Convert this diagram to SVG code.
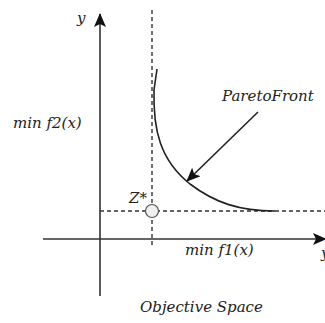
<svg xmlns="http://www.w3.org/2000/svg" width="325" height="323" viewBox="0 0 325 323">
<defs>
<style>
text{font-family:'DejaVu Serif','Liberation Serif',serif;font-style:italic;font-size:15px;fill:#222}
.ax{stroke:#333;stroke-width:1.6;fill:none}
.dash{stroke:#333;stroke-width:1.4;stroke-dasharray:4 3;fill:none}
</style>
<marker id="ah2" markerWidth="14" markerHeight="12" refX="13" refY="6" orient="auto" markerUnits="userSpaceOnUse"><path d="M0,0 L14,6 L0,12 L3,6 z" fill="#111"/></marker>
</defs>
<rect width="325" height="323" fill="#fff"/>
<g id="connectors">
<line class="ax" x1="100" y1="296" x2="100" y2="14" marker-end="url(#ah2)"/>
<line class="ax" x1="43" y1="239" x2="326" y2="239" marker-end="url(#ah2)"/>
<line class="dash" x1="152" y1="10" x2="152" y2="246"/>
<line class="dash" x1="100" y1="211" x2="325" y2="211"/>
<path d="M157,69 L154,90 C153,130 160,160 190,184 C215,203 240,211 275,211" stroke="#222" stroke-width="1.6" fill="none"/>
<line x1="258" y1="112" x2="187" y2="181" stroke="#222" stroke-width="1.6" marker-end="url(#ah2)"/>
</g>
<g id="zstar">
<circle cx="152" cy="211" r="6.5" fill="#eef0ee" stroke="#555" stroke-width="1.2"/>
<text x="129" y="203">Z*</text>
</g>
<g id="labels">
<text x="77" y="23">y</text>
<text x="321" y="258">y</text>
<text x="222" y="101">ParetoFront</text>
<text x="13" y="128">min f2(x)</text>
<text x="185" y="255">min f1(x)</text>
<text x="140" y="312">Objective Space</text>
</g>
</svg>
